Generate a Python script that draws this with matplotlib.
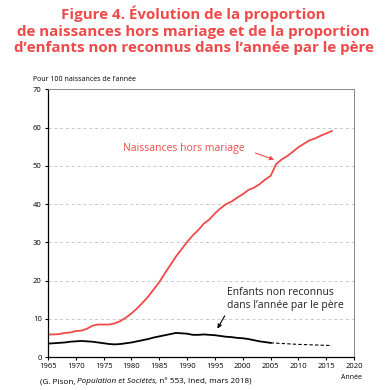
import matplotlib
matplotlib.use("Agg")
import matplotlib.pyplot as plt

plt.rcParams['font.family'] = ['Open Sans', 'DejaVu Sans']

years_hm = list(range(1965, 2017))
hors_mariage = [5.9, 5.9, 6.0, 6.3, 6.4, 6.8, 6.9, 7.4, 8.2, 8.5, 8.5, 8.5, 8.8, 9.4, 10.3,
                11.4, 12.7, 14.2, 15.8, 17.7, 19.6, 21.9, 24.1, 26.3, 28.2, 30.1, 31.8, 33.2,
                34.9, 36.0, 37.6, 38.9, 40.0, 40.7, 41.7, 42.6, 43.7, 44.3, 45.2, 46.4, 47.4,
                50.5, 51.7, 52.6, 53.7, 54.9, 55.8, 56.7, 57.2, 57.9, 58.5, 59.1]

years_nr = list(range(1965, 2006))
non_reconnus = [3.5, 3.6, 3.7, 3.8, 4.0, 4.1, 4.2, 4.1, 4.0, 3.8, 3.6, 3.4, 3.3, 3.4, 3.6,
                3.8, 4.1, 4.4, 4.7, 5.1, 5.4, 5.7, 6.0, 6.3, 6.2, 6.1, 5.8, 5.8, 5.9, 5.8,
                5.7, 5.5, 5.3, 5.2, 5.0, 4.9, 4.7, 4.4, 4.1, 3.9, 3.7]
years_nr_est = [2005, 2010, 2016]
non_reconnus_est = [3.7, 3.3, 3.0]

x_ticks = list(range(1965, 2021, 5))
y_ticks = list(range(0, 71, 10))

red = '#EF4A4A'
fig = plt.figure(figsize=(3.87, 3.90), dpi=100)
ax = fig.add_axes([0.124, 0.0846, 0.791, 0.686])

ax.plot(years_hm, hors_mariage, color=red, lw=1.3)
ax.plot(years_nr, non_reconnus, color='black', lw=1.3)
ax.plot(years_nr_est, non_reconnus_est, color='black', lw=0.8, ls=(0, (3, 2)))

ax.set_xlim(1965, 2020)
ax.set_ylim(0, 70)
ax.set_xticks(x_ticks)
ax.set_yticks(y_ticks)
ax.tick_params(labelsize=5.5, length=2.5, width=0.8, pad=2)
for y in y_ticks[1:-1]:
    ax.axhline(y, color='#c8c8c8', lw=0.7, ls=(0, (3, 3)), zorder=0)
for s in ['left', 'bottom']:
    ax.spines[s].set_color('black')
    ax.spines[s].set_linewidth(0.9)
for s in ['top', 'right']:
    ax.spines[s].set_color('#888888')
    ax.spines[s].set_linewidth(0.7)

ax.text(1978.5, 54.6, 'Naissances hors mariage', color=red, fontsize=7.5, va='center', ha='left')
ax.annotate('', xy=(2006.1, 51.4), xytext=(2001.8, 53.6),
            arrowprops=dict(arrowstyle='-|>', color=red, lw=0.8, mutation_scale=6))
ax.text(1997.1, 15.1, 'Enfants non reconnus\ndans l\u2019année par le père', color='#222222',
        fontsize=7.5, va='center', ha='left', linespacing=1.3)
ax.annotate('', xy=(1995.2, 6.8), xytext=(1997.0, 11.4),
            arrowprops=dict(arrowstyle='-|>', color='black', lw=0.8, mutation_scale=6))

fig.text(0.5, 0.985, 'Figure 4. Évolution de la proportion\nde naissances hors mariage et de la proportion\nd\u2019enfants non reconnus dans l\u2019année par le père',
         color=red, fontsize=10.9, fontweight='bold', ha='center', va='top', linespacing=1.22)
fig.text(0.085, 0.797, 'Pour 100 naissances de l\u2019année', fontsize=5, ha='left', va='center')
fig.text(0.909, 0.031, 'Année', fontsize=5, ha='center', va='center')

yb = 0.012
fs = 5.9
t1 = fig.text(0.103, yb, '(G. Pison,', fontsize=fs, ha='left', va='bottom')
t2 = fig.text(0, yb, 'Population et Sociétés', fontsize=fs, style='italic', ha='left', va='bottom')
fig.canvas.draw()
r = fig.canvas.get_renderer()
W = fig.bbox.width
bb = t1.get_window_extent(r)
t2.set_position(((bb.x1 + 1.2) / W, yb))
fig.canvas.draw()
bb2 = t2.get_window_extent(r)
fig.text(bb2.x1 / W, yb, ', n° 553, Ined, mars 2018)', fontsize=fs, ha='left', va='bottom')

fig.savefig('out.png', dpi=100)
